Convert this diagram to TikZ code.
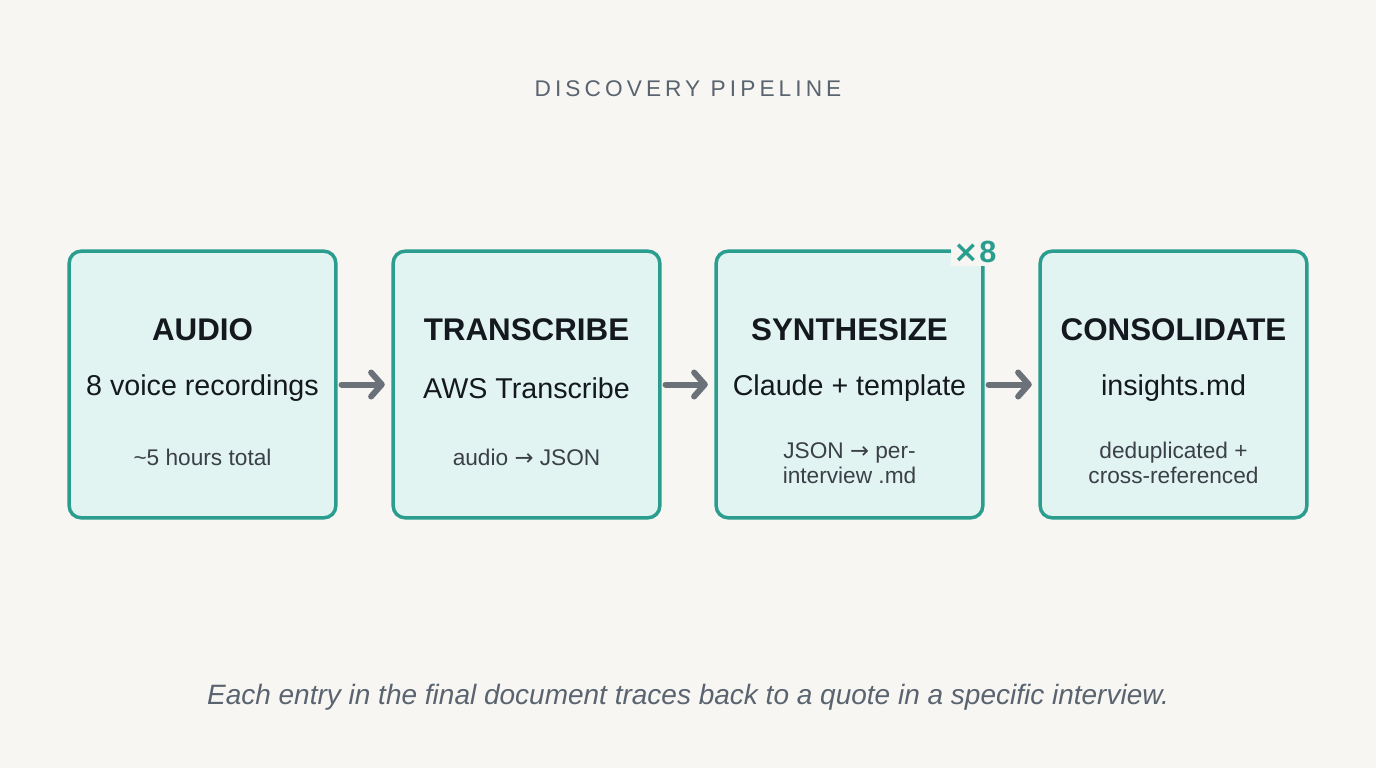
\documentclass[tikz,border=0pt]{standalone}
\usepackage{fontspec}
\setmainfont{Liberation Sans}
\newfontfamily\symf{DejaVu Sans}
\usetikzlibrary{arrows.meta}
\definecolor{bg}{HTML}{F7F6F2}
\definecolor{boxfill}{HTML}{E2F4F1}
\definecolor{teal}{HTML}{2A9D8F}
\definecolor{ink}{HTML}{14181F}
\definecolor{sub}{HTML}{3A4048}
\definecolor{arrowgray}{HTML}{6B7178}
\definecolor{titlegray}{HTML}{5A6470}
\newcommand{\rarr}{{\symf\char"2192}}
\begin{document}
\begin{tikzpicture}[x=0.75pt,y=-0.75pt,
  stage/.style={draw=teal,line width=2.6pt,fill=boxfill,rounded corners=9pt,minimum width=200pt,minimum height=200pt,inner sep=0pt},
  head/.style={font=\bfseries\fontsize{23.5}{26}\selectfont,text=ink},
  mainl/.style={font=\fontsize{21.5}{24}\selectfont,text=ink},
  small/.style={font=\fontsize{17}{18.5}\selectfont,text=sub,align=center},
  flow/.style={draw=arrowgray,line width=4.5pt,line cap=round,-{Straight Barb[length=8pt,width=18pt,line width=4.5pt,round]}}]
\useasboundingbox[fill=bg] (0,0) rectangle (1376,768);
\node[font=\fontsize{17}{18}\selectfont\addfontfeature{LetterSpace=18},text=titlegray] (title) at (688,89) {DISCOVERY PIPELINE};
\foreach \n/\x/\h/\m in {a/202.5/AUDIO/8 voice recordings,b/526.5/TRANSCRIBE/AWS Transcribe,c/849.5/SYNTHESIZE/Claude + template,d/1173.5/CONSOLIDATE/insights.md}{
  \node[stage] (\n) at (\x,384.5) {};
  \node[head] (\n h) at (\x,330) {\h};
  \node[mainl] (\n m) at (\x,388) {\m};
}
\node[small] (as) at (202.5,457) {\textasciitilde 5 hours total};
\node[small] (bs) at (526.5,457) {audio \rarr{} JSON};
\node[small] (cs) at (849.5,463) {JSON \rarr{} per-\\interview .md};
\node[small] (ds) at (1173.5,463) {deduplicated +\\cross-referenced};
\node[fill=bg,inner sep=2pt,font=\bfseries\fontsize{23}{24}\selectfont,text=teal] (x8) at (975,252) {{\symf\bfseries\char"00D7}8};
\draw[flow] ([xshift=3pt]a.east) -- ([xshift=-5pt]b.west);
\draw[flow] ([xshift=3pt]b.east) -- ([xshift=-5pt]c.west);
\draw[flow] ([xshift=3pt]c.east) -- ([xshift=-5pt]d.west);
\node[font=\itshape\fontsize{21}{24}\selectfont,text=titlegray] (cap) at (688,697) {Each entry in the final document traces back to a quote in a specific interview.};
\end{tikzpicture}
\end{document}
